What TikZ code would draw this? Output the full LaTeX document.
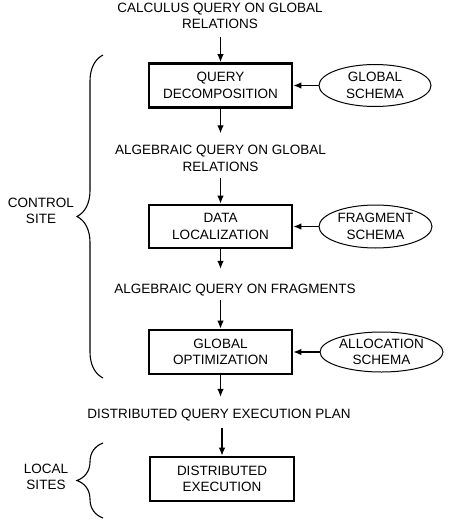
\documentclass[tikz,border=0pt]{standalone}
\usepackage{fontspec}
\setmainfont{Liberation Sans}
\usetikzlibrary{arrows.meta,shapes.geometric,decorations.pathreplacing}

\begin{document}
\begin{tikzpicture}
	[x=1pt, y=1pt,
	font=\fontsize{13.5}{16.5}\selectfont,
	stage/.style={rectangle, draw, line width=2.8pt, minimum width=143pt, minimum height=44pt, inner sep=0, align=center},
	schema/.style = {ellipse, draw, line width=1pt, minimum width=112pt, minimum height=42pt, inner sep=0, align=center},
	caption/.style = {inner sep=0, align=center},
	pre/.style = {{Latex[length=8pt,width=6.5pt]}-, line width=1.1pt},
	post/.style = {-{Latex[length=8pt,width=6.5pt]}, line width=1.1pt},
	site/.style = {decorate, decoration={brace, amplitude=26pt}, line width=1.1pt}]
	\useasboundingbox (0,0) rectangle (462,-530);
	\node (calc) [caption] at (220,-16) {CALCULUS QUERY ON GLOBAL\\RELATIONS};
	\node (qd) [stage] at (220.5,-85.5) {QUERY\\DECOMPOSITION}
		edge [pre, shorten >=8pt] (calc.south -| qd);
	\node (gs) [schema] at (375,-85.5) {GLOBAL\\SCHEMA}
		edge [post] (qd);
	\node (alg1) [caption] at (220.5,-158.5) {ALGEBRAIC QUERY ON GLOBAL\\RELATIONS}
		edge [pre, shorten <=12pt] (qd);
	\node (dl) [stage, minimum height=43pt] at (220.5,-226.5) {DATA\\LOCALIZATION}
		edge [pre, shorten >=6pt] (alg1);
	\node (fs) [schema, minimum width=113pt, minimum height=43pt] at (375.5,-226.5) {FRAGMENT\\SCHEMA}
		edge [post] (dl);
	\node (alg2) [caption] at (235,-290) {ALGEBRAIC QUERY ON FRAGMENTS};
	\draw [post, shorten >=15pt] (dl) -- (dl |- alg2.north);
	\node (go) [stage] at (220.5,-352) {GLOBAL\\OPTIMIZATION}
		edge [pre, shorten >=4pt] (alg2.south -| go);
	\node (as) [schema, minimum width=123pt, minimum height=40pt] at (381.5,-352) {ALLOCATION\\SCHEMA}
		edge [post] (go);
	\node (plan) [caption] at (219,-415) {DISTRIBUTED QUERY EXECUTION PLAN};
	\draw [post, shorten >=12pt] (go) -- (go |- plan.north);
	\node (de) [stage, minimum width=144pt] at (222,-479) {DISTRIBUTED\\EXECUTION}
		edge [pre, shorten >=7pt] (plan.south -| de);
	% sites
	\coordinate (ctop) at (103,-55);
	\coordinate (cbot) at (103,-378);
	\draw [site] (cbot) -- (ctop);
	\node (control) [caption] at (41,-211) {CONTROL\\SITE};
	\coordinate (ltop) at (103,-443);
	\coordinate (lbot) at (103,-518);
	\draw [site] (lbot) -- (ltop);
	\node (local) [caption] at (46,-477) {LOCAL\\SITES};
\end{tikzpicture}
\end{document}
